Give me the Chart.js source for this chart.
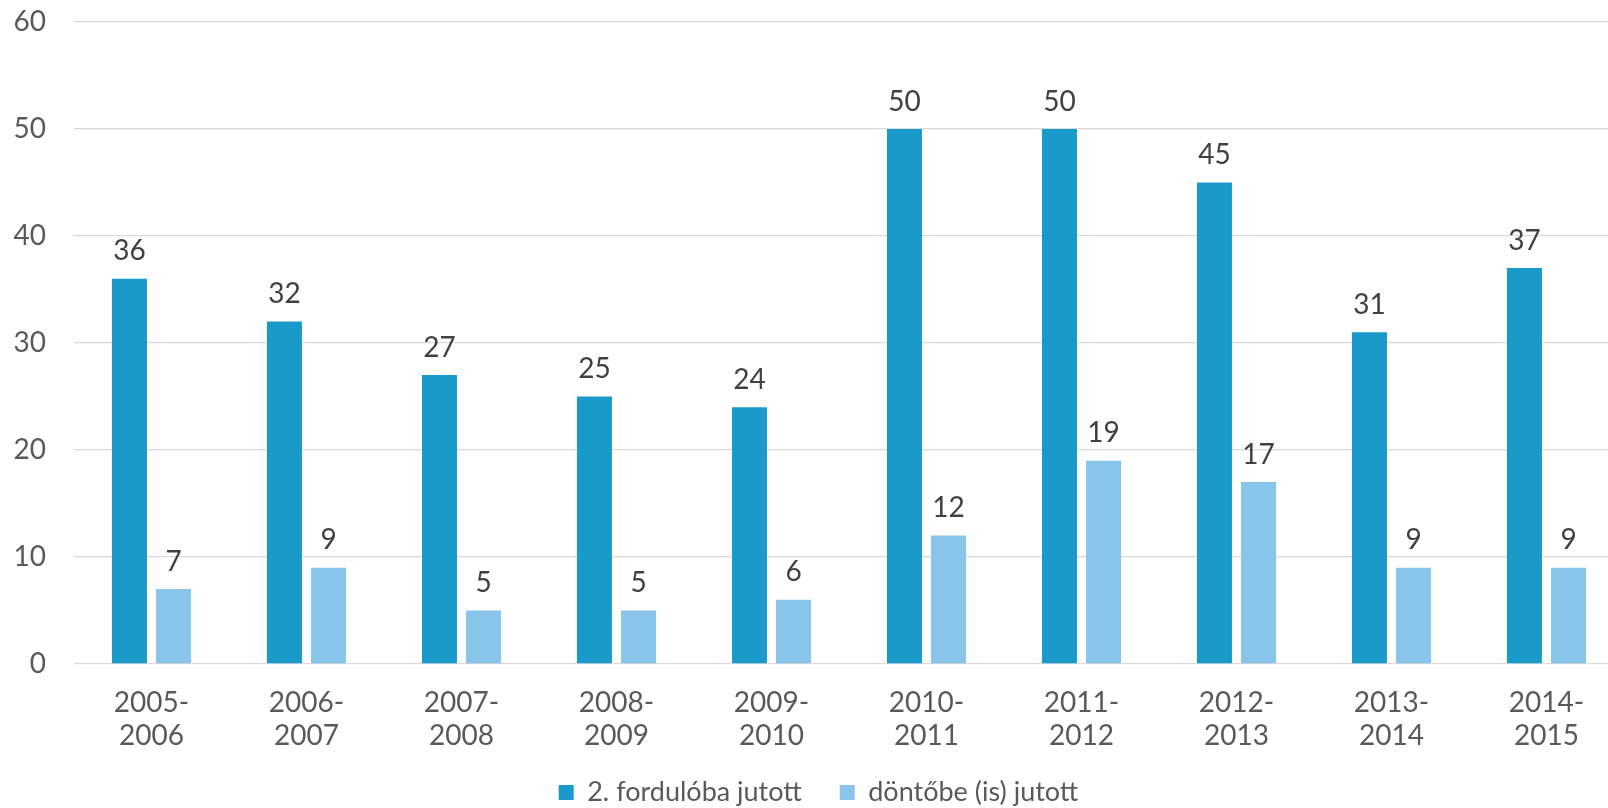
<!DOCTYPE html>
<html>
<head>
<meta charset="utf-8">
<script src="https://cdn.jsdelivr.net/npm/chart.js@4"></script>
<style>
html,body{margin:0;padding:0;overflow:hidden;background:#fff;width:1608px;height:808px}
#wrap{position:absolute;left:0;top:0;width:1624px;height:845px}
</style>
</head>
<body>
<div id="wrap"><canvas id="c"></canvas></div>
<script>
const categories = [['2005-','2006'],['2006-','2007'],['2007-','2008'],['2008-','2009'],['2009-','2010'],['2010-','2011'],['2011-','2012'],['2012-','2013'],['2013-','2014'],['2014-','2015']];
const secondRound = [36,32,27,25,24,50,50,45,31,37];
const finalRound = [7,9,5,5,6,12,19,17,9,9];
const seriesNames = ['2. fordulóba jutott','döntőbe (is) jutott'];
const seriesColors = ['#1a9acb','#89c4eb'];
const yMin = 0, yMax = 60, yStep = 10;

const FONT = 'Lato, "Open Sans", sans-serif';
const LEGEND_PAD = 38;

const valueLabels = {
  id:'valueLabels',
  afterDatasetsDraw(chart){
    const ctx = chart.ctx;
    ctx.save();
    ctx.font = '28px ' + FONT;
    ctx.fillStyle = '#404040';
    ctx.textAlign = 'center';
    ctx.textBaseline = 'alphabetic';
    chart.data.datasets.forEach((ds,i)=>{
      chart.getDatasetMeta(i).data.forEach((bar,j)=>{
        ctx.fillText(String(ds.data[j]), bar.x, bar.y - 18.5);
      });
    });
    ctx.restore();
  }
};

const legendPlace = {
  id:'legendPlace',
  afterLayout(chart){
    const l = chart.legend;
    if(!l) return;
    const h = l.bottom - l.top;
    const top = 779 - LEGEND_PAD;
    l.top = top; l.bottom = top + h;
    l.left += 6.5; l.right += 6.5;
  }
};

new Chart(document.getElementById('c'), {
  type:'bar',
  data:{
    labels: categories,
    datasets:[
      {label: seriesNames[0], data: secondRound, backgroundColor: seriesColors[0], borderWidth:0,
       categoryPercentage:0.569, barPercentage:0.794},
      {label: seriesNames[1], data: finalRound, backgroundColor: seriesColors[1], borderWidth:0,
       categoryPercentage:0.569, barPercentage:0.794}
    ]
  },
  options:{
    responsive:true,
    maintainAspectRatio:false,
    animation:false,
    layout:{padding:{top:22,left:0,right:0,bottom:0}},
    plugins:{
      legend:{
        position:'bottom',
        labels:{font:{family:FONT,size:27},color:'#595959',boxWidth:15,boxHeight:15,padding:LEGEND_PAD}
      },
      tooltip:{enabled:false}
    },
    scales:{
      x:{
        grid:{display:false,drawTicks:false},
        border:{display:false},
        ticks:{font:{family:FONT,size:28,lineHeight:1.2},color:'#595959',padding:22,maxRotation:0,autoSkip:false},
        afterFit(s){ s.height = 106; }
      },
      y:{
        min:yMin,max:yMax,
        grid:{color:'#d9d9d9',lineWidth:1.3,drawTicks:false},
        border:{display:false},
        ticks:{stepSize:yStep,font:{family:FONT,size:28},color:'#595959',padding:28},
        afterFit(s){ s.width = 74; s.paddingTop = 0; s.paddingBottom = 0; }
      }
    }
  },
  plugins:[valueLabels, legendPlace]
});
</script>
</body>
</html>
